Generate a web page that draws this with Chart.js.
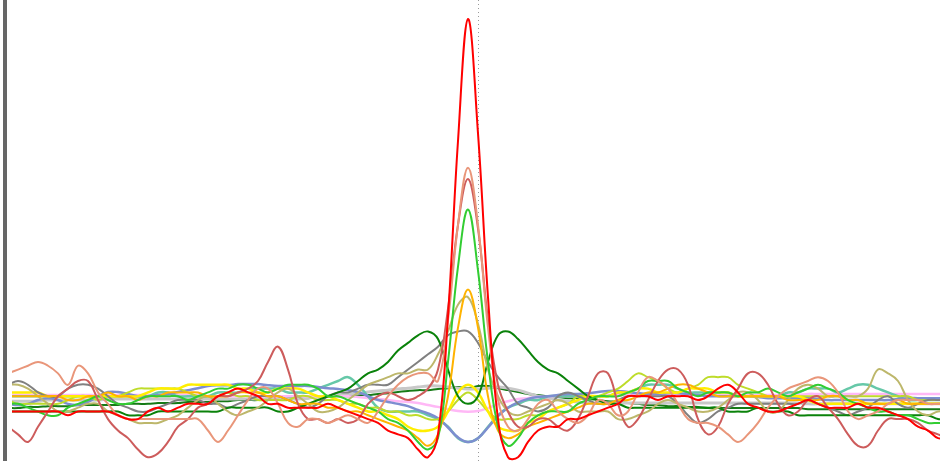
<!DOCTYPE html>
<html>
<head>
<meta charset="utf-8">
<title>Cross-correlation by lag</title>
<script src="https://cdn.jsdelivr.net/npm/chart.js@4.4.1/dist/chart.umd.min.js"></script>
<style>
  html, body { margin: 0; padding: 0; background: #ffffff; overflow: hidden; }
  canvas { display: block; }
</style>
</head>
<body>
<canvas id="cc" width="940" height="461"></canvas>
<script>
// Lags (steps) shared by every series
const lags = [
  -47,-46,-45,-44,-43,-42,-41,-40,-39,-38,
  -37,-36,-35,-34,-33,-32,-31,-30,-29,-28,
  -27,-26,-25,-24,-23,-22,-21,-20,-19,-18,
  -17,-16,-15,-14,-13,-12,-11,-10,-9,-8,
  -7,-6,-5,-4,-3,-2,-1,0,1,2,
  3,4,5,6,7,8,9,10,11,12,
  13,14,15,16,17,18,19,20,21,22,
  23,24,25,26,27,28,29,30,31,32,
  33,34,35,36,37,38,39,40,41,42,
  43,44,45,46,47
];

// Correlation (%) per lag, one array per channel
const red = [
  -3,-3,-3,-3,-3,-3,-4,-3,-3,-3,
  -3,-4,-5,-5,-3,-2,-3,-2,-1,-1,
  -1,1,2,3,2,1,-1,-1,-2,-2,
  -2,-2,-1,-2,-3,-4,-5,-6,-8,-9,
  -10,-13,-15,-9,22,68,100,70,27,-5,
  -15,-15,-11,-8,-7,-7,-5,-5,-4,-3,
  -2,-1,1,1,1,0,1,1,1,0,
  1,3,4,2,-1,-2,-3,-3,-2,-1,
  0,-1,-2,-2,-2,-1,-2,-2,-3,-4,
  -5,-7,-8,-10,-10
];
const salmon = [
  7,8,9,10,9,7,4,9,7,2,
  -1,-4,-5,-5,-5,-5,-5,-5,-5,-5,
  -8,-11,-8,-4,0,3,3,-1,-6,-7,
  -5,-5,-6,-5,-4,-5,-6,-3,1,4,
  6,7,7,5,21,46,61,46,19,0,
  -7,-8,-5,-1,0,-3,-5,-6,-4,0,
  -1,-4,-3,2,6,5,3,-1,-5,-6,
  -6,-7,-9,-11,-9,-6,-2,1,3,4,
  5,6,5,2,-3,-5,-4,-3,-1,0,
  0,0,-1,-1,-1
];
const indianRed = [
  -7,-9,-11,-7,-3,1,3,5,5,0,
  -5,-8,-10,-13,-15,-14,-11,-7,-5,-2,
  -1,1,1,2,3,5,10,14,8,-1,
  -5,-5,-6,-5,-6,-5,-1,1,2,1,
  0,1,3,8,24,46,58,45,21,4,
  -3,-7,-7,-5,-5,-7,-8,-5,1,7,
  7,-1,-7,-5,0,5,8,8,4,-5,
  -9,-7,-1,3,7,7,4,-1,-4,-3,
  0,1,-2,-5,-9,-12,-12,-8,-5,-5,
  -5,-6,-8,-9,-10
];
const limeGreen = [
  -1,-1,-2,-3,-4,-4,-2,-1,0,1,
  0,-1,-1,0,1,1,1,1,0,1,
  2,3,3,4,4,3,2,3,4,4,
  4,3,1,1,0,-1,-2,-3,-5,-6,
  -8,-11,-13,-10,10,35,50,34,10,-7,
  -12,-10,-6,-4,-3,-3,-3,-1,0,1,
  1,1,2,3,5,5,5,3,2,1,
  2,2,2,1,2,2,3,2,1,2,
  3,4,3,2,0,-1,-2,-3,-3,-4,
  -4,-5,-6,-6,-6
];
const amber = [
  1,1,1,1,1,1,0,0,1,1,
  2,1,1,0,1,1,2,2,2,2,
  1,1,1,2,2,2,1,1,0,-1,
  -1,-1,-2,-2,-3,-3,-4,-5,-6,-7,
  -8,-10,-12,-9,1,19,29,19,1,-8,
  -10,-9,-7,-6,-5,-4,-3,-2,-1,-1,
  -1,0,0,1,2,2,3,4,4,3,
  2,1,1,1,1,1,1,1,0,0,
  0,0,1,1,0,0,-1,-1,-1,0,
  -1,-1,-1,-1,-1
];
const khaki = [
  4,4,3,1,-1,-3,-3,-2,-1,-1,
  -3,-4,-5,-6,-6,-6,-5,-4,-2,0,
  1,-1,-3,-4,-3,-2,0,2,3,1,
  -1,-3,-3,-2,0,2,4,5,6,7,
  7,8,8,12,18,25,27,20,8,1,
  -3,-4,-3,-2,-1,0,-1,-3,-3,-3,
  -3,-5,-5,-4,-3,-1,0,-1,-2,-3,
  -3,-2,0,2,2,0,-3,-3,0,3,
  4,3,1,1,1,1,3,8,7,5,
  0,-3,-4,-3,-3
];
const green = [
  -3,-3,-3,-3,-3,-3,-3,-3,-3,-3,
  -3,-3,-4,-4,-4,-3,-3,-3,-3,-3,
  -3,-3,-2,-2,-2,-2,-2,-3,-3,-2,
  -1,0,1,2,3,5,7,8,10,13,
  15,17,18,16,8,1,-1,1,10,17,
  18,16,13,10,8,7,5,3,1,0,
  -1,-1,-2,-2,-2,-2,-2,-2,-2,-2,
  -2,-2,-3,-3,-3,-2,-3,-3,-3,-4,
  -4,-4,-4,-4,-4,-4,-4,-4,-4,-4,
  -4,-4,-4,-5,-5
];
const gray = [
  4,5,4,2,1,1,3,4,4,3,
  1,-1,-2,-3,-3,-2,-1,0,0,0,
  -1,-1,-2,-1,0,1,1,1,0,-1,
  -2,-1,1,2,2,3,4,4,4,6,
  8,10,12,14,17,18,18,15,10,6,
  3,-1,-2,-3,-2,1,2,1,0,-1,
  -1,0,1,1,1,1,1,-1,-4,-6,
  -5,-3,-2,-1,-1,-1,-1,-1,-1,-1,
  0,-1,-2,-3,-4,-3,-2,0,1,-1,
  -2,-1,0,0,0
];
const yellow = [
  2,2,2,2,1,1,1,1,1,1,
  1,1,1,1,2,3,3,3,4,4,
  4,4,4,3,3,2,2,3,3,3,
  2,1,1,0,-1,-2,-3,-3,-4,-5,
  -7,-8,-8,-7,-3,2,4,2,-3,-7,
  -8,-8,-6,-5,-3,-2,-1,0,1,1,
  1,2,2,3,3,2,2,2,3,3,
  3,2,2,1,1,1,1,1,1,1,
  0,-1,-1,-1,-1,-1,-1,-1,-1,-1,
  -1,-1,-1,-1,-1
];
const yellowGreen = [
  0,-1,-1,-1,-1,-1,0,1,1,0,
  1,1,2,3,3,3,3,3,2,1,
  1,1,2,1,1,0,0,0,0,1,
  1,0,0,0,-1,-1,-2,-2,-3,-3,
  -4,-4,-5,-5,-3,0,2,0,-3,-5,
  -5,-5,-4,-4,-3,-2,-1,1,1,1,
  2,3,5,7,6,5,3,2,3,4,
  6,6,6,4,3,2,1,1,1,1,
  1,1,1,1,1,1,1,1,1,1,
  1,0,0,0,0
];
const aquamarine = [
  1,1,1,1,1,1,1,1,1,1,
  1,1,1,1,1,2,2,1,1,1,
  1,2,2,2,3,3,3,3,2,2,
  2,3,4,5,6,4,1,-2,-3,-3,
  -3,-3,-4,-5,-7,-10,-11,-10,-7,-4,
  -2,-1,0,0,1,1,1,1,1,1,
  1,2,2,3,4,4,4,3,2,2,
  2,2,2,1,1,1,1,1,2,2,
  3,3,3,2,3,4,4,3,2,1,
  0,0,0,0,0
];
const slateBlue = [
  -1.0,-1.3,-1.0,0,0.5,0,-1.0,-1.3,-0.5,1.0,
  2.1,2.1,1.6,1.0,1.0,1.3,1.6,2.1,2.6,3.1,
  3.7,3.9,3.9,4.2,4.2,4.2,3.9,3.7,3.7,3.7,
  3.7,3.4,3.1,2.9,2.6,2.1,1.0,0,-0.5,-1.0,
  -1.6,-2.6,-3.5,-4.8,-7.2,-9.8,-11.0,-10.0,-7.2,-4.2,
  -2.0,-0.6,0.3,0.8,1.0,1.3,1.6,1.6,1.8,2.1,
  2.4,2.4,2.1,1.8,1.6,1.6,1.8,1.8,1.6,1.3,
  1.0,1.0,1.0,1.0,1.0,0.8,0.5,0.5,0.5,0.5,
  0.5,0.3,0,0,0,0,0,0,0,0.3,
  0.5,0.5,0.5,0.5,0.5
];
const pink = [
  1.3,1.3,1.3,1.3,1.3,1.3,1.3,1.3,1.3,1.3,
  1.3,1.3,1.3,1.3,1.3,1.3,1.3,1.3,1.3,1.3,
  1.0,1.0,1.0,1.0,1.0,1.0,1.0,1.0,1.0,1.0,
  1.0,1.0,1.0,1.0,1.0,0.8,0.5,0.3,0,-0.3,
  -0.5,-0.8,-1.3,-1.8,-2.4,-2.9,-3.1,-2.9,-2.1,-1.0,
  -0.3,0.3,0.5,0.8,0.8,1.0,1.0,1.0,1.0,1.0,
  1.3,1.3,1.3,1.3,1.3,1.3,1.3,1.3,1.3,1.3,
  1.3,1.3,1.3,1.3,1.3,1.3,1.3,1.3,1.3,1.3,
  1.6,1.6,1.6,1.6,1.6,1.6,1.6,1.6,1.6,1.6,
  1.6,1.6,1.6,1.6,1.6
];
const silver = [
  -0.3,-0.3,-0.3,-0.3,0,0,0,0,0,0,
  0.3,0.3,0.3,0.3,0.3,0.3,0.3,0.3,0.3,0.3,
  0.3,0.3,0.3,0.3,0.3,0.3,0.3,0.3,0.3,0.3,
  0.5,0.8,1.0,1.3,1.6,1.8,2.1,2.4,2.6,2.9,
  3.1,3.4,3.7,3.7,3.4,3.1,2.9,2.9,3.1,3.4,
  3.1,2.6,1.8,1.0,0.5,0,-0.3,-0.5,-0.8,-0.8,
  -0.8,-0.8,-0.8,-0.8,-0.8,-0.8,-0.8,-0.8,-0.8,-0.8,
  -0.8,-0.8,-0.8,-0.8,-0.8,-0.8,-0.8,-0.8,-0.8,-0.8,
  -1.0,-1.0,-1.0,-1.0,-1.0,-1.0,-1.0,-1.0,-1.0,-1.0,
  -1.0,-1.0,-1.0,-1.0,-1.0
];
const darkGreen = [
  -2.1,-2.1,-1.8,-1.8,-1.6,-1.6,-1.6,-1.3,-1.3,-1.3,
  -1.3,-1.3,-1.0,-1.0,-1.0,-0.8,-0.8,-0.8,-0.5,-0.5,
  -0.5,-0.3,-0.3,0,0,0,0.3,0.3,0.5,0.5,
  0.5,0.8,0.8,1.0,1.0,1.3,1.3,1.6,1.8,2.1,
  2.4,2.6,2.6,2.9,3.1,3.4,3.1,3.7,3.7,3.1,
  2.6,2.1,1.6,1.3,1.0,0.8,0.5,0.5,0.3,0,
  -0.3,-0.5,-0.8,-1.0,-1.3,-1.3,-1.6,-1.6,-1.8,-1.8,
  -2.1,-2.1,-2.1,-2.1,-2.1,-2.1,-2.1,-2.1,-2.1,-2.1,
  -2.4,-2.4,-2.4,-2.4,-2.4,-2.4,-2.4,-2.4,-2.4,-2.4,
  -2.4,-2.4,-2.4,-2.4,-2.4
];

// Channel name, values, colour, width (first entry is drawn on top)
const channels = [
  ['red', red, '#ff0000', 2],
  ['salmon', salmon, '#e9967a', 2],
  ['indianRed', indianRed, '#cd5c5c', 2],
  ['limeGreen', limeGreen, '#32cd32', 2],
  ['amber', amber, '#ffb300', 2],
  ['khaki', khaki, '#bdb76b', 2],
  ['green', green, '#0a820a', 2],
  ['gray', gray, '#808080', 2],
  ['yellow', yellow, '#ffee00', 2.5],
  ['yellowGreen', yellowGreen, '#bedc2a', 2],
  ['slateBlue', slateBlue, '#7d8ed0', 2.5],
  ['aquamarine', aquamarine, '#66c8a8', 2.5],
  ['pink', pink, '#ffb8f6', 2.5],
  ['silver', silver, '#c8c8c8', 3],
  ['darkGreen', darkGreen, '#167a16', 2]
];

// Thick grey bar on the left and dotted zero-lag marker
const decorations = {
  id: 'decorations',
  beforeDatasetsDraw(chart) {
    const { ctx, chartArea, scales } = chart;
    ctx.save();
    ctx.fillStyle = '#666666';
    ctx.fillRect(3, 0, 4, chart.height);
    const x0 = Math.round(scales.x.getPixelForValue(0)) + 0.5;
    ctx.strokeStyle = '#9a9a9a';
    ctx.lineWidth = 1;
    ctx.setLineDash([1, 3]);
    ctx.beginPath();
    ctx.moveTo(x0, chartArea.top);
    ctx.lineTo(x0, chartArea.bottom);
    ctx.stroke();
    ctx.restore();
  }
};

new Chart(document.getElementById('cc'), {
  type: 'line',
  data: {
    datasets: channels.map(([name, values, color, width]) => ({
      label: name,
      data: lags.map((lag, i) => ({ x: lag, y: values[i] })),
      borderColor: color,
      borderWidth: width,
      pointRadius: 0,
      fill: false,
      tension: 0.4
    }))
  },
  options: {
    responsive: false,
    animation: false,
    devicePixelRatio: 1,
    layout: { padding: { left: 12, right: 0, top: 0, bottom: 0 } },
    plugins: { legend: { display: false }, tooltip: { enabled: false } },
    scales: {
      x: { type: 'linear', min: -46.6, max: 46.2, display: false },
      y: { min: -16, max: 105, display: false }
    }
  },
  plugins: [decorations]
});
</script>
</body>
</html>
